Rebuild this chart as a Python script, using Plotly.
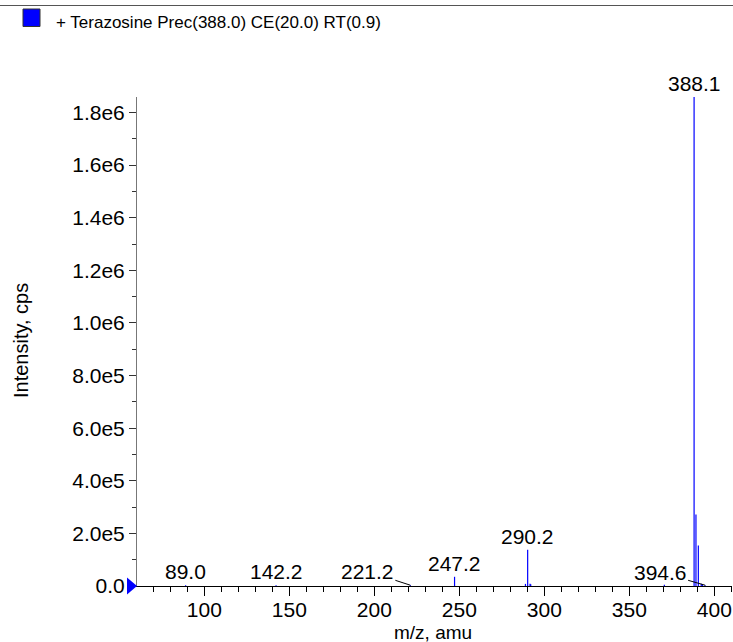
import plotly.graph_objects as go

# ---- data ----
mz = [89.0, 142.2, 221.2, 247.2, 288.9, 290.2, 291.6, 292.0, 370.6,
      388.1, 389.2, 390.6, 392.3, 393.0, 394.6]
intensity = [3000, 3000, 3000, 35000, 8000, 138000, 9000, 7000, 5000,
             1860000, 272000, 154000, 9000, 6000, 3000]

labels_mz = [89.0, 142.2, 247.2, 290.2, 388.1]
labels_val = [3000, 3000, 35000, 138000, 1860000]
leader_mz = [221.2, 394.6]
leader_val = [3000, 3000]

y_tickvals = [0, 2e5, 4e5, 6e5, 8e5, 1.0e6, 1.2e6, 1.4e6, 1.6e6, 1.8e6]
y_ticktext = ["0.0", "2.0e5", "4.0e5", "6.0e5", "8.0e5", "1.0e6", "1.2e6", "1.4e6", "1.6e6", "1.8e6"]
x_tickvals = [100, 150, 200, 250, 300, 350, 400]
x_range = [60.4, 410.4]
y_range = [0, 1.859e6]

title_text = "+ Terazosine Prec(388.0) CE(20.0) RT(0.9)"
x_title = "m/z, amu"
y_title = "Intensity, cps"
FONT = "Liberation Sans, Arial, Helvetica, sans-serif"

W, H = 733, 642
ML, MR, MT, MB = 137, 1, 97, 56
PW, PH = W - ML - MR, H - MT - MB


def px_x(p):
    return (p - ML) / PW


def px_y(p):
    return 1 - (p - MT) / PH


# build stick coordinates from data
xs, ys = [], []
for m, v in zip(mz, intensity):
    xs += [m, m, None]
    ys += [0, v, None]

fig = go.Figure()
fig.add_trace(go.Scatter(x=xs, y=ys, mode="lines",
                         line=dict(color="#0000ff", width=1.2),
                         hoverinfo="skip", showlegend=False))

annotations = []
for m, v in zip(labels_mz, labels_val):
    annotations.append(dict(x=m, y=min(v, y_range[1]), xref="x", yref="y", text=f"{m:.1f}",
                            showarrow=False, yanchor="bottom", xanchor="center",
                            yshift=0, font=dict(family=FONT, size=21, color="black")))
for m, v, dx, dy in zip(leader_mz, leader_val, [-43, -45], [-14, -13]):
    annotations.append(dict(x=m, y=v, xref="x", yref="y", text=f"{m:.1f}",
                            showarrow=True, arrowhead=0, arrowwidth=1, arrowcolor="black",
                            ax=dx, ay=dy, standoff=0,
                            font=dict(family=FONT, size=21, color="black")))
annotations.append(dict(x=px_x(54), y=px_y(22), xref="paper", yref="paper", text=title_text,
                        showarrow=False, xanchor="left", yanchor="middle",
                        font=dict(family=FONT, size=17, color="black")))
annotations.append(dict(x=px_x(433), y=px_y(632), xref="paper", yref="paper", text=x_title,
                        showarrow=False, xanchor="center", yanchor="middle",
                        font=dict(family=FONT, size=19, color="black")))
annotations.append(dict(x=px_x(21), y=px_y(341), xref="paper", yref="paper", text=y_title,
                        showarrow=False, xanchor="center", yanchor="middle", textangle=-90,
                        font=dict(family=FONT, size=20, color="black")))

fig.update_layout(
    width=W, height=H,
    margin=dict(l=ML, r=MR, t=MT, b=MB, autoexpand=False),
    plot_bgcolor="white", paper_bgcolor="white",
    font=dict(family=FONT, size=21, color="black"),
    xaxis=dict(range=x_range, tickvals=x_tickvals, ticks="outside", ticklen=9,
               tickwidth=1, tickcolor="black", showline=True, linecolor="black", linewidth=1,
               showgrid=False, zeroline=False, automargin=False, ticklabelstandoff=-4,
               minor=dict(dtick=10, tick0=0, ticks="outside", ticklen=5, tickcolor="black"),
               tickfont=dict(size=21)),
    yaxis=dict(range=y_range, tickvals=y_tickvals, ticktext=y_ticktext,
               ticks="outside", ticklen=7, tickwidth=1, tickcolor="#333333",
               showline=True, linecolor="#777777", linewidth=1, showgrid=False, zeroline=False,
               automargin=False,
               minor=dict(dtick=1e5, tick0=0, ticks="outside", ticklen=4, tickcolor="#333333"),
               tickfont=dict(size=21)),
    shapes=[
        dict(type="line", xref="paper", yref="paper", x0=px_x(0), x1=px_x(W),
             y0=px_y(5.5), y1=px_y(5.5), line=dict(color="#555555", width=1)),
        dict(type="rect", xref="paper", yref="paper",
             x0=px_x(23), x1=px_x(40), y0=px_y(26.5), y1=px_y(9),
             fillcolor="#0000ff", line=dict(color="#333333", width=1)),
        dict(type="path", xref="paper", yref="paper", xsizemode="pixel", ysizemode="pixel",
             xanchor=0, yanchor=0, path="M -10 8.5 L 0 0 L -10 -8.5 Z",
             fillcolor="#0000ff", line=dict(color="#0000ff", width=0)),
    ],
    annotations=annotations,
)

fig.write_html("out.html", config={"displayModeBar": False},
               post_script="document.body.style.margin='0';")
